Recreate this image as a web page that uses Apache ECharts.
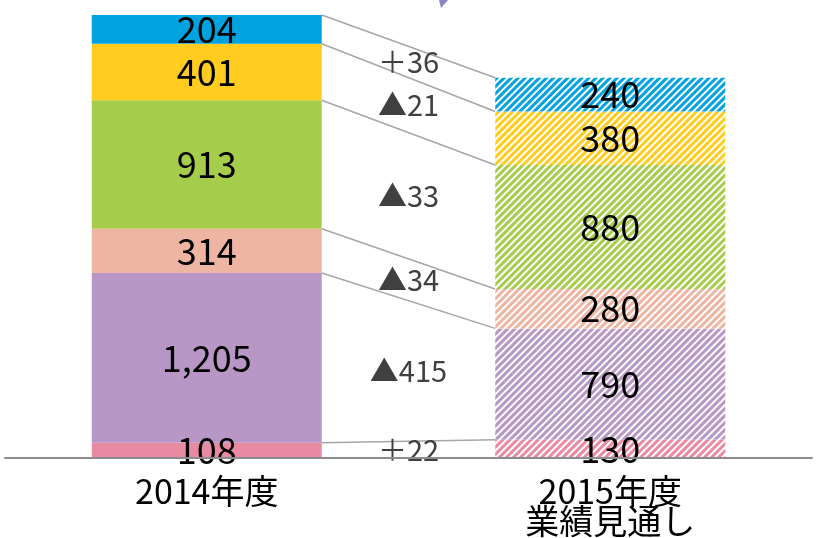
<!DOCTYPE html>
<html>
<head>
<meta charset="utf-8">
<script src="https://cdn.jsdelivr.net/npm/echarts@6/dist/echarts.min.js"></script>
<style>
  html, body { margin: 0; padding: 0; background: #fff; }
  #chart { width: 816px; height: 538px; }
</style>
</head>
<body>
<div id="chart"></div>
<script>
// データ（下から順）
var categories = ['2014年度', '2015年度\n業績見通し'];
var segNames   = ['a', 'b', 'c', 'd', 'e', 'f'];
var values2014 = [108, 1205, 314, 913, 401, 204];
var values2015 = [130, 790, 280, 880, 380, 240];
var segColors  = ['#E98AA3', '#B896C6', '#EDB5A2', '#A6CC4B', '#FFCC1F', '#00A3E0'];

var FONT = '"Noto Sans CJK JP", "Noto Sans", sans-serif';
var BAR_W = 230;

function fmt(v) {
  return String(v).replace(/\B(?=(\d{3})+(?!\d))/g, ',');
}

// 累計
var cum14 = [], cum15 = [];
var s14 = 0, s15 = 0;
for (var i = 0; i < values2014.length; i++) {
  cum14.push([s14, s14 + values2014[i]]);
  cum15.push([s15, s15 + values2015[i]]);
  s14 += values2014[i];
  s15 += values2015[i];
}

// 棒グラフ系列
var series = segNames.map(function (name, i) {
  return {
    name: name,
    type: 'bar',
    stack: 'total',
    barWidth: BAR_W,
    data: [
      { value: values2014[i], itemStyle: { color: segColors[i] } },
      {
        value: values2015[i],
        itemStyle: {
          color: '#ffffff',
          decal: {
            symbol: 'rect',
            symbolSize: 1,
            color: segColors[i],
            backgroundColor: '#ffffff',
            dashArrayX: [1, 0],
            dashArrayY: [2.8, 1.45],
            rotation: -Math.PI / 4
          }
        }
      }
    ],
    label: {
      show: true,
      position: 'inside',
      color: '#000',
      fontSize: 36,
      fontFamily: FONT,
      formatter: function (p) { return fmt(p.value); }
    },
    z: 3
  };
});

// 接続線（各区切りの上端同士）
series.push({
  type: 'custom',
  data: cum14.map(function (c, i) { return [0, c[1], cum15[i][1]]; }),
  renderItem: function (params, api) {
    var p1 = api.coord([0, api.value(1)]);
    var p2 = api.coord([1, api.value(2)]);
    return {
      type: 'line',
      shape: { x1: p1[0] + BAR_W / 2, y1: p1[1], x2: p2[0] - BAR_W / 2, y2: p2[1] },
      style: { stroke: '#A6A6A6', lineWidth: 1.5 }
    };
  },
  z: 2
});

// 増減ラベル
series.push({
  type: 'custom',
  data: cum14.map(function (c, i) {
    return [0, c[0], c[1], cum15[i][0], cum15[i][1], values2015[i] - values2014[i]];
  }),
  renderItem: function (params, api) {
    var a = api.coord([0, (api.value(1) + api.value(2)) / 2]);
    var b = api.coord([1, (api.value(3) + api.value(4)) / 2]);
    var d = api.value(5);
    return {
      type: 'text',
      x: (a[0] + b[0]) / 2,
      y: (a[1] + b[1]) / 2,
      style: {
        text: d >= 0 ? '＋' + d : '▲' + (-d),
        fill: '#404040',
        font: '29px ' + FONT,
        align: 'center',
        verticalAlign: 'middle'
      }
    };
  },
  z: 4
});

var chart = echarts.init(document.getElementById('chart'));
chart.setOption({
  animation: false,
  grid: { left: 5, right: 4, top: 15, bottom: 80 },
  xAxis: {
    type: 'category',
    data: categories,
    axisTick: { show: false },
    axisLine: { lineStyle: { color: '#8C8C8C', width: 2 } },
    axisLabel: {
      color: '#000',
      fontSize: 34,
      lineHeight: 30,
      fontFamily: FONT,
      margin: 18
    },
    z: 5
  },
  yAxis: {
    type: 'value',
    min: 0,
    max: s14,
    show: false,
    splitLine: { show: false }
  },
  graphic: [{
    type: 'polygon',
    shape: { points: [[439, 0], [448, 0], [441, 8]] },
    style: { fill: '#8A86C6' }
  }],
  series: series
});
</script>
</body>
</html>
